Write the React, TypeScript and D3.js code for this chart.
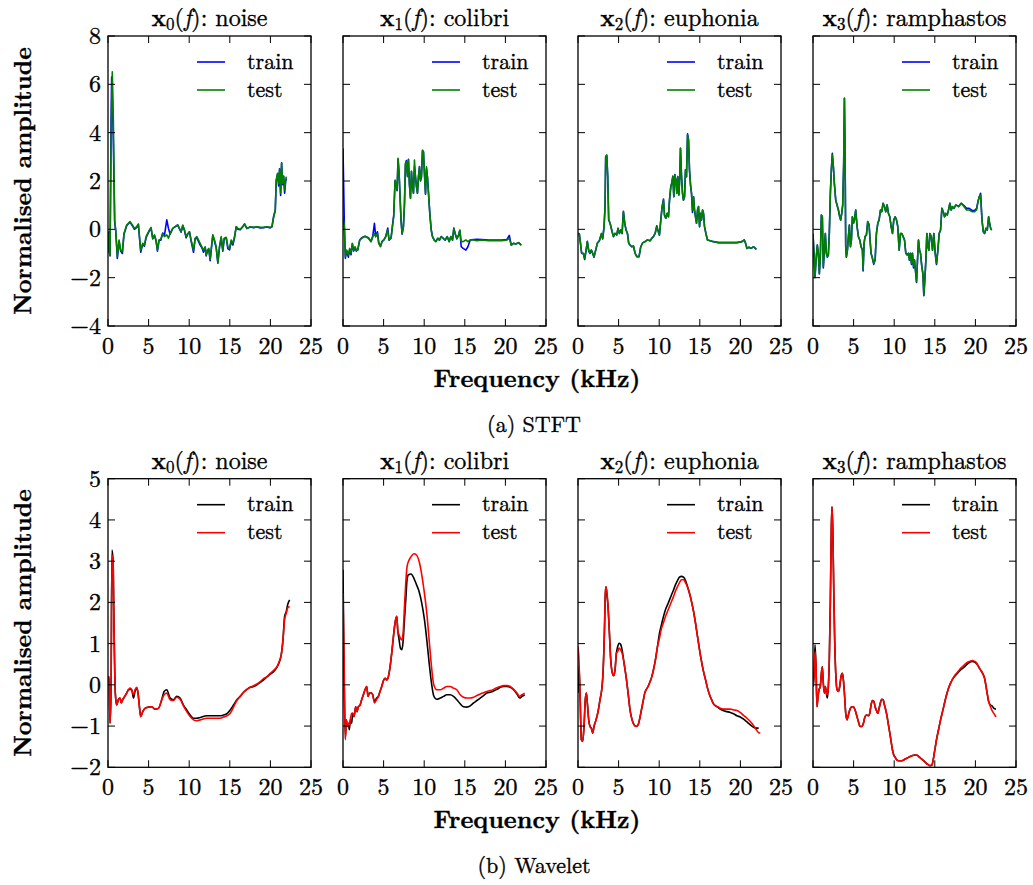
import React from 'react';
import * as d3 from 'd3';

// [frequency kHz, train, test]
type Row = [number, number | null, number | null];

const panelNames = ['noise', 'colibri', 'euphonia', 'ramphastos'];
const xTicks = [0, 5, 10, 15, 20, 25];
const stftYTicks = [-4, -2, 0, 2, 4, 6, 8];
const waveYTicks = [-2, -1, 0, 1, 2, 3, 4, 5];
const legendLabels = ['train', 'test'];

const stftNoise: Row[] = [
  [0, -0.9, -0.99], [0.12, -0.1, -0.17], [0.25, -1.1, -1.06], [0.37, 4.2, 3.14], [0.45, 6.3, 5.2],
  [0.53, 5.6, 6.52], [0.66, 3.6, 4.52], [0.82, 0.3, 0.39], [0.95, -0.05, -0.03], [1.15, -1.2, -1.13],
  [1.36, -0.5, -0.44], [1.56, -0.9, -0.86], [1.77, -1.0, -0.92], [1.97, -0.2, -0.17], [2.3, 0.15, 0.18],
  [2.71, 0.3, 0.32], [3.0, 0.15, 0.18], [3.25, 0.0, 0.04], [3.54, 0.08, 0.11], [3.74, 0.2, 0.22],
  [4.03, -0.95, -0.86], [4.28, -0.6, -0.58], [4.48, -0.7, -0.65], [4.69, -0.35, -0.3], [4.89, -0.2, -0.17],
  [5.1, -0.05, -0.03], [5.3, 0.05, 0.08], [5.51, -0.4, -0.37], [5.72, -0.25, -0.23], [5.92, -0.5, -0.44],
  [6.09, -0.9, -0.86], [6.29, -0.45, -0.44], [6.5, -0.45, -0.41], [6.74, -0.15, -0.17], [6.95, -0.25, -0.3],
  [7.24, 0.39, -0.23], [7.44, 0.05, -0.37], [7.65, -0.2, -0.17], [7.98, 0.04, 0.04], [8.26, 0.1, 0.11],
  [8.59, 0.18, 0.18], [8.8, 0.02, 0.04], [9.0, -0.12, -0.1], [9.21, 0.15, 0.18], [9.42, -0.05, -0.03],
  [9.62, -0.35, -0.3], [9.83, -0.2, -0.17], [10.03, -0.1, -0.1], [10.24, -0.5, -0.44], [10.53, -0.95, -0.86],
  [10.73, -0.4, -0.37], [10.94, -0.35, -0.3], [11.14, -0.5, -0.44], [11.35, -0.65, -0.58], [11.55, -0.75, -0.72],
  [11.76, -0.95, -0.86], [11.97, -0.75, -0.72], [12.09, -1.1, -1.06], [12.25, -0.9, -0.86], [12.42, -0.85, -0.79],
  [12.58, -1.3, -1.24], [12.79, -0.6, -0.58], [12.91, -0.25, -0.23], [13.12, -0.5, -0.44], [13.32, -0.75, -0.72],
  [13.53, -1.4, -1.38], [13.73, -0.75, -0.72], [13.94, -0.35, -0.3], [14.14, -0.9, -0.86], [14.31, -0.4, -0.37],
  [14.56, -0.35, -0.33], [14.76, -0.8, -0.72], [14.97, -0.85, -0.79], [15.17, -0.5, -0.44], [15.38, -0.65, -0.58],
  [15.58, -0.35, -0.3], [15.79, 0.1, 0.11], [16.0, 0.0, 0.04], [16.28, -0.02, 0.0], [16.61, 0.12, 0.11],
  [16.82, 0.22, 0.22], [17.11, 0.03, 0.04], [17.52, 0.1, 0.11], [17.93, 0.07, 0.08], [18.34, 0.1, 0.11],
  [18.75, 0.06, 0.08], [19.16, 0.07, 0.08], [19.57, 0.1, 0.11], [19.98, 0.06, 0.08], [20.19, 0.1, 0.11],
  [20.39, 0.5, 0.52], [20.6, 0.78, 0.8], [20.72, 2.0, 2.04], [20.89, 2.3, 2.32], [21.01, 1.8, 1.9],
  [21.13, 2.5, 2.46], [21.26, 1.4, 1.49], [21.38, 2.75, 2.73], [21.5, 1.85, 1.9], [21.63, 2.2, 2.18],
  [21.75, 1.5, 1.63], [21.88, 2.0, 2.04], [21.96, 2.1, 2.18],
];

const stftColibri: Row[] = [
  [0, 3.35, 0.52], [0.16, 0.3, 0.11], [0.29, -1.2, -1.13], [0.45, -0.9, -0.86], [0.66, -1.15, -1.06],
  [0.82, -0.85, -0.79], [0.99, -1.05, -0.99], [1.15, -0.6, -0.58], [1.32, -0.9, -0.86], [1.48, -0.75, -0.72],
  [1.64, -0.9, -0.86], [1.81, -0.85, -0.86], [2.06, -0.45, -0.44], [2.3, -0.35, -0.37], [2.71, -0.28, -0.3],
  [3.13, -0.35, -0.37], [3.45, -0.5, -0.51], [3.66, -0.3, -0.3], [3.87, 0.25, -0.17], [4.03, -0.3, -0.3],
  [4.24, -0.1, -0.17], [4.4, -0.55, -0.58], [4.61, -0.7, -0.72], [4.81, -0.5, -0.51], [5.06, -0.42, -0.44],
  [5.26, -0.3, -0.3], [5.51, 0.05, -0.03], [5.67, -0.45, -0.44], [5.92, -0.35, -0.37], [6.09, 0.15, 0.11],
  [6.25, 0.6, 0.52], [6.41, 2.0, 2.04], [6.54, 1.85, 1.9], [6.66, 1.6, 1.63], [6.78, 2.9, 2.94],
  [6.91, 2.3, 2.32], [7.03, 1.3, 1.35], [7.15, 0.35, 0.39], [7.28, -0.2, -0.17], [7.44, 0.1, 0.11],
  [7.57, 1.0, 1.08], [7.69, 2.7, 2.73], [7.81, 2.85, 2.8], [7.94, 2.2, 2.18], [8.06, 2.9, 2.87],
  [8.18, 1.85, 1.9], [8.31, 1.3, 1.28], [8.43, 2.4, 2.39], [8.55, 1.8, 1.77], [8.68, 1.5, 1.49],
  [8.8, 2.6, 2.87], [8.92, 2.2, 2.18], [9.05, 1.75, 1.77], [9.17, 1.5, 1.49], [9.29, 2.15, 2.18],
  [9.42, 2.6, 2.59], [9.54, 2.0, 2.04], [9.66, 2.15, 2.18], [9.79, 3.25, 3.28], [9.91, 3.2, 3.21],
  [10.03, 2.3, 2.32], [10.16, 1.45, 1.49], [10.28, 2.5, 2.59], [10.4, 2.15, 2.18], [10.53, 1.5, 1.49],
  [10.69, 0.65, 0.66], [10.86, 0.0, -0.03], [11.02, -0.3, -0.3], [11.23, -0.45, -0.44], [11.43, -0.5, -0.51],
  [11.68, -0.37, -0.37], [11.88, -0.45, -0.44], [12.09, -0.3, -0.3], [12.34, -0.37, -0.37], [12.58, -0.45, -0.44],
  [12.83, -0.3, -0.3], [13.08, -0.5, -0.51], [13.28, -0.3, -0.3], [13.49, -0.45, -0.44], [13.65, 0.05, 0.04],
  [13.82, -0.2, -0.17], [14.02, -0.4, -0.37], [14.23, -0.25, -0.23], [14.39, -0.05, -0.03], [14.56, -0.72, -0.51],
  [14.8, -0.79, -0.51], [15.13, -0.86, -0.44], [15.38, -0.72, -0.51], [15.67, -0.44, -0.44], [16.08, -0.42, -0.44],
  [16.49, -0.41, -0.47], [17.11, -0.42, -0.44], [17.93, -0.44, -0.47], [18.75, -0.44, -0.47], [19.57, -0.44, -0.47],
  [20.19, -0.42, -0.44], [20.48, -0.25, -0.37], [20.72, -0.65, -0.65], [21.01, -0.58, -0.58], [21.3, -0.61, -0.61],
  [21.63, -0.55, -0.55], [21.96, -0.65, -0.65],
];

const stftEuphonia: Row[] = [
  [0, -0.17, -0.17], [0.16, -0.2, -0.17], [0.29, -0.55, -0.51], [0.45, -1.0, -0.99], [0.66, -1.0, -0.99],
  [0.82, -1.25, -1.2], [0.99, -0.9, -0.86], [1.15, -0.5, -0.51], [1.32, -0.9, -0.86], [1.48, -1.0, -0.99],
  [1.64, -0.86, -0.86], [1.81, -1.0, -0.99], [1.97, -1.15, -1.13], [2.18, -0.86, -0.86], [2.38, -0.58, -0.58],
  [2.63, -0.47, -0.47], [2.88, -0.2, -0.17], [3.04, -0.4, -0.37], [3.21, 0.1, 0.11], [3.33, 0.94, 0.94],
  [3.41, 3.0, 3.01], [3.54, 3.05, 3.08], [3.66, 2.2, 2.18], [3.78, 0.4, 0.39], [3.95, 0.25, 0.25],
  [4.15, -0.03, -0.03], [4.36, -0.3, -0.3], [4.56, -0.17, -0.17], [4.77, -0.23, -0.23], [4.93, 0.04, 0.04],
  [5.1, -0.17, -0.17], [5.26, -0.03, -0.03], [5.43, -0.17, -0.17], [5.59, 0.75, 0.73], [5.76, 0.25, 0.25],
  [5.92, -0.03, -0.03], [6.09, -0.17, -0.17], [6.25, -0.58, -0.58], [6.41, -0.65, -0.65], [6.62, -0.72, -0.72],
  [6.83, -0.69, -0.69], [7.03, -0.99, -0.99], [7.24, -1.13, -1.13], [7.52, -1.13, -1.13], [7.73, -0.72, -0.72],
  [7.98, -0.55, -0.55], [8.26, -0.51, -0.51], [8.55, -0.44, -0.44], [8.88, -0.47, -0.47], [9.09, -0.37, -0.37],
  [9.29, -0.3, -0.3], [9.5, -0.17, -0.17], [9.7, 0.15, 0.11], [9.83, -0.03, -0.03], [10.03, -0.23, -0.23],
  [10.2, 0.39, 0.39], [10.36, 0.94, 0.94], [10.53, 1.25, 1.21], [10.65, 0.59, 0.59], [10.81, 0.46, 0.46],
  [10.98, 0.66, 0.66], [11.14, 0.52, 0.52], [11.27, 1.21, 1.21], [11.43, 1.77, 1.77], [11.55, 1.92, 1.9],
  [11.68, 2.2, 2.18], [11.8, 1.35, 1.35], [11.92, 2.27, 2.25], [12.05, 2.04, 2.04], [12.17, 1.49, 1.49],
  [12.29, 2.18, 2.18], [12.42, 1.42, 1.42], [12.54, 2.18, 2.18], [12.62, 3.35, 3.35], [12.75, 2.18, 2.18],
  [12.87, 1.49, 1.49], [12.99, 1.21, 1.21], [13.12, 1.35, 1.35], [13.24, 2.46, 2.46], [13.36, 2.18, 2.18],
  [13.49, 3.95, 3.9], [13.61, 3.7, 3.7], [13.73, 2.46, 2.46], [13.86, 1.83, 1.83], [13.98, 1.49, 1.49],
  [14.1, 0.7, 0.8], [14.23, 1.35, 1.35], [14.35, 0.8, 0.8], [14.47, 0.52, 0.52], [14.6, 0.25, 0.25],
  [14.72, 0.8, 0.8], [14.84, 0.94, 0.94], [14.97, 0.11, 0.11], [15.09, 0.66, 0.66], [15.21, 0.39, 0.39],
  [15.34, 0.8, 0.8], [15.46, 0.66, 0.66], [15.58, 0.11, 0.11], [15.75, -0.17, -0.17], [15.95, -0.44, -0.44],
  [16.28, -0.47, -0.47], [16.69, -0.51, -0.51], [17.31, -0.55, -0.55], [17.93, -0.55, -0.55], [18.75, -0.55, -0.55],
  [19.57, -0.55, -0.55], [20.19, -0.51, -0.51], [20.48, -0.44, -0.44], [20.64, -0.58, -0.58], [20.81, -0.79, -0.79],
  [21.05, -0.74, -0.74], [21.3, -0.79, -0.79], [21.63, -0.72, -0.72], [21.96, -0.83, -0.83],
];

const stftRamphastos: Row[] = [
  [0, -0.2, -0.17], [0.12, -1.0, -0.99], [0.25, -2.0, -1.96], [0.37, -1.3, -1.27], [0.53, -0.65, -0.65],
  [0.66, -1.0, -0.99], [0.78, -1.85, -1.82], [0.9, -1.15, -1.13], [1.03, 0.59, 0.59], [1.15, 0.52, 0.52],
  [1.27, -1.6, -1.54], [1.4, -0.86, -0.86], [1.52, -0.17, -0.17], [1.64, -0.99, -0.99], [1.77, -1.15, -1.13],
  [1.89, -1.06, -1.06], [2.01, -0.17, -0.17], [2.14, 1.49, 1.49], [2.26, 2.46, 2.46], [2.38, 3.15, 3.08],
  [2.51, 2.59, 2.59], [2.63, 1.9, 1.9], [2.8, 1.21, 1.21], [2.96, 1.01, 1.01], [3.13, 0.8, 0.8],
  [3.29, 0.52, 0.52], [3.41, 0.39, 0.39], [3.54, 0.66, 0.66], [3.66, 1.01, 1.01], [3.78, 2.73, 2.73],
  [3.87, 5.42, 5.42], [3.95, 3.14, 3.14], [4.03, -0.72, -0.72], [4.11, -1.15, -1.13], [4.24, -0.86, -0.86],
  [4.36, -0.3, -0.3], [4.48, 0.18, 0.18], [4.61, -0.72, -0.72], [4.73, -0.44, -0.44], [4.85, 0.52, 0.52],
  [4.98, 0.25, 0.25], [5.1, 0.39, 0.39], [5.26, 0.8, 0.8], [5.43, 0.11, 0.11], [5.59, -0.3, -0.3],
  [5.76, -0.44, -0.44], [5.92, -0.72, -0.72], [6.09, -0.86, -0.86], [6.17, -1.72, -1.68], [6.29, -0.58, -0.58],
  [6.41, -0.3, -0.3], [6.58, -0.23, -0.23], [6.74, 0.32, 0.32], [6.91, 0.18, 0.18], [7.03, -0.44, -0.44],
  [7.15, -0.99, -0.99], [7.32, -1.2, -1.2], [7.48, -1.45, -1.41], [7.65, -1.27, -1.27], [7.81, -0.17, -0.17],
  [7.98, 0.25, 0.25], [8.14, 0.39, 0.39], [8.31, 0.8, 0.8], [8.47, 0.73, 0.73], [8.63, 1.08, 1.08],
  [8.8, 0.94, 0.94], [8.96, 0.73, 0.73], [9.13, 1.01, 1.01], [9.29, 0.66, 0.66], [9.46, 0.52, 0.52],
  [9.62, 0.11, 0.11], [9.79, -0.17, -0.17], [9.95, 0.39, 0.39], [10.12, 0.52, 0.52], [10.28, 0.39, 0.39],
  [10.44, 0.11, 0.11], [10.61, -0.86, -0.86], [10.77, -0.17, -0.17], [10.94, -0.17, -0.17], [11.1, -0.3, -0.3],
  [11.27, -0.44, -0.44], [11.43, -0.99, -0.99], [11.6, -1.06, -1.06], [11.76, -0.99, -0.99], [11.88, -1.27, -1.27],
  [12.01, -0.99, -0.99], [12.13, -1.45, -1.41], [12.25, -0.99, -0.99], [12.38, -1.6, -1.54], [12.5, -1.27, -1.27],
  [12.62, -1.72, -1.68], [12.75, -2.2, -2.17], [12.87, -1.27, -1.27], [12.99, -0.44, -0.44], [13.12, -0.86, -0.86],
  [13.24, -0.99, -0.99], [13.4, -1.54, -1.54], [13.53, -1.82, -1.82], [13.65, -2.75, -2.72], [13.77, -2.1, -2.1],
  [13.9, -1.27, -1.27], [14.02, -0.17, -0.17], [14.14, -0.72, -0.72], [14.27, -0.86, -0.86], [14.39, -0.17, -0.17],
  [14.56, -0.3, -0.3], [14.72, -0.86, -0.86], [14.88, -0.17, -0.17], [15.05, -0.99, -0.99], [15.21, -1.45, -1.41],
  [15.38, -0.86, -0.86], [15.54, -0.17, -0.17], [15.71, -0.03, -0.03], [15.87, 0.87, 0.87], [16.04, 0.73, 0.73],
  [16.2, 0.52, 0.52], [16.37, 0.66, 0.66], [16.53, 0.59, 0.59], [16.69, 0.8, 0.8], [16.86, 1.08, 1.08],
  [17.02, 0.8, 0.8], [17.19, 0.94, 0.94], [17.35, 0.87, 0.87], [17.6, 1.01, 1.01], [17.93, 0.94, 0.94],
  [18.26, 1.08, 1.08], [18.59, 0.98, 0.94], [18.91, 0.87, 0.8], [19.24, 0.87, 0.8], [19.57, 0.78, 0.73],
  [19.9, 0.78, 0.73], [20.15, 0.87, 0.8], [20.31, 1.14, 1.14], [20.48, 1.35, 1.35], [20.64, 1.49, 1.42],
  [20.81, 0.39, 0.39], [20.97, -0.1, -0.1], [21.13, -0.17, -0.17], [21.3, 0.04, 0.04], [21.46, -0.03, -0.03],
  [21.63, 0.52, 0.52], [21.75, 0.25, 0.25], [21.88, 0.04, 0.04], [22.0, -0.03, -0.03],
];

const waveNoise: Row[] = [
  [0, 0.12, 0.16], [0.12, 0.2, 0.2], [0.25, -0.93, -0.93], [0.37, -0.2, -0.2], [0.49, 3.27, 3.15],
  [0.62, 3.03, 3.03], [0.74, 1.41, 1.41], [0.9, -0.2, -0.2], [1.07, -0.49, -0.49], [1.27, -0.36, -0.36],
  [1.48, -0.32, -0.32], [1.64, -0.44, -0.44], [1.81, -0.36, -0.36], [2.06, -0.28, -0.28], [2.3, -0.2, -0.2],
  [2.51, -0.12, -0.12], [2.71, -0.11, -0.08], [2.92, -0.12, -0.12], [3.13, -0.32, -0.24], [3.33, -0.16, -0.12],
  [3.54, -0.08, -0.06], [3.7, -0.2, -0.2], [3.87, -0.53, -0.53], [4.03, -0.77, -0.77], [4.28, -0.65, -0.65],
  [4.56, -0.57, -0.57], [4.98, -0.54, -0.54], [5.39, -0.53, -0.53], [5.8, -0.59, -0.59], [6.21, -0.57, -0.57],
  [6.62, -0.36, -0.36], [6.91, -0.16, -0.24], [7.24, -0.12, -0.2], [7.65, -0.32, -0.36], [8.06, -0.36, -0.38],
  [8.47, -0.28, -0.3], [8.88, -0.32, -0.35], [9.29, -0.49, -0.51], [9.7, -0.61, -0.65], [10.12, -0.73, -0.77],
  [10.53, -0.81, -0.85], [10.94, -0.81, -0.87], [11.35, -0.79, -0.85], [12.17, -0.75, -0.81], [12.99, -0.75, -0.81],
  [13.82, -0.75, -0.81], [14.23, -0.73, -0.78], [14.64, -0.7, -0.75], [15.05, -0.61, -0.69], [15.46, -0.49, -0.54],
  [15.87, -0.36, -0.38], [16.28, -0.28, -0.28], [16.69, -0.18, -0.18], [17.11, -0.11, -0.11], [17.52, -0.06, -0.06],
  [17.93, -0.04, -0.02], [18.34, 0.0, 0.02], [18.75, 0.06, 0.08], [19.16, 0.12, 0.15], [19.57, 0.19, 0.2],
  [19.98, 0.26, 0.28], [20.39, 0.32, 0.35], [20.81, 0.43, 0.44], [21.09, 0.55, 0.57], [21.34, 0.73, 0.73],
  [21.55, 1.09, 1.09], [21.75, 1.66, 1.58], [21.96, 1.78, 1.74], [22.12, 1.94, 1.86], [22.37, 2.06, 1.9],
];

const waveColibri: Row[] = [
  [0, 2.79, 2.22], [0.16, -0.2, 0.2], [0.29, -1.29, -1.33], [0.41, -0.85, -0.85], [0.53, -1.01, -1.01],
  [0.66, -0.93, -0.93], [0.78, -1.09, -1.01], [0.9, -0.85, -0.85], [1.07, -0.93, -0.69], [1.19, -0.69, -0.69],
  [1.36, -0.77, -0.77], [1.56, -0.53, -0.53], [1.73, -0.65, -0.65], [1.89, -0.53, -0.53], [2.1, -0.49, -0.49],
  [2.3, -0.36, -0.36], [2.51, -0.24, -0.24], [2.71, -0.12, -0.12], [2.92, -0.04, -0.04], [3.08, -0.28, -0.28],
  [3.25, -0.2, -0.2], [3.45, -0.19, -0.19], [3.66, -0.24, -0.24], [3.87, -0.4, -0.44], [4.15, -0.32, -0.35],
  [4.36, -0.28, -0.28], [4.56, -0.16, -0.16], [4.77, -0.04, -0.04], [5.02, 0.12, 0.12], [5.18, 0.16, 0.16],
  [5.39, 0.12, 0.12], [5.59, 0.2, 0.2], [5.8, 0.44, 0.44], [6.0, 0.77, 0.77], [6.21, 1.17, 1.17],
  [6.41, 1.5, 1.5], [6.62, 1.66, 1.66], [6.74, 1.33, 1.33], [6.91, 1.09, 1.21], [7.07, 0.89, 1.13],
  [7.24, 0.85, 1.09], [7.4, 1.05, 1.25], [7.57, 1.58, 1.9], [7.73, 2.06, 2.47], [7.89, 2.55, 2.87],
  [8.06, 2.67, 2.99], [8.39, 2.69, 3.11], [8.72, 2.59, 3.18], [9.05, 2.43, 3.15], [9.38, 2.26, 2.99],
  [9.7, 1.98, 2.67], [10.03, 1.58, 2.22], [10.32, 1.09, 1.74], [10.61, 0.53, 1.09], [10.9, 0.04, 0.44],
  [11.18, -0.27, 0.0], [11.55, -0.35, -0.12], [11.97, -0.32, -0.12], [12.38, -0.28, -0.08], [12.79, -0.24, -0.04],
  [13.2, -0.24, -0.04], [13.61, -0.28, -0.08], [14.02, -0.36, -0.12], [14.43, -0.46, -0.24], [14.84, -0.53, -0.3],
  [15.25, -0.54, -0.32], [15.67, -0.51, -0.32], [16.08, -0.44, -0.3], [16.49, -0.38, -0.26], [16.9, -0.32, -0.22],
  [17.31, -0.26, -0.19], [17.72, -0.2, -0.16], [18.13, -0.18, -0.14], [18.54, -0.15, -0.11], [18.96, -0.11, -0.07],
  [19.37, -0.06, -0.04], [19.78, -0.04, -0.02], [20.19, -0.04, -0.02], [20.6, -0.06, -0.04], [21.01, -0.12, -0.11],
  [21.42, -0.22, -0.2], [21.75, -0.32, -0.28], [22.04, -0.28, -0.24], [22.37, -0.24, -0.2],
];

const waveEuphonia: Row[] = [
  [0, -0.2, 0.93], [0.12, 0.44, 0.61], [0.25, -0.2, -0.2], [0.41, -1.33, -1.33], [0.58, -1.37, -1.37],
  [0.74, -1.01, -1.01], [0.9, -0.36, -0.36], [1.03, -0.2, -0.2], [1.15, -0.44, -0.44], [1.32, -0.85, -0.85],
  [1.48, -1.01, -1.01], [1.64, -1.05, -1.05], [1.81, -1.17, -1.17], [1.97, -1.01, -1.01], [2.22, -0.85, -0.85],
  [2.47, -0.65, -0.65], [2.71, -0.36, -0.36], [2.92, -0.12, -0.12], [3.08, 0.28, 0.28], [3.25, 1.25, 1.25],
  [3.37, 2.22, 2.22], [3.45, 2.38, 2.38], [3.58, 2.14, 2.22], [3.7, 1.9, 1.9], [3.87, 1.25, 1.25],
  [4.03, 0.61, 0.61], [4.24, 0.28, 0.28], [4.4, 0.22, 0.22], [4.56, 0.36, 0.36], [4.73, 0.77, 0.77],
  [4.89, 0.93, 0.81], [5.06, 1.01, 0.89], [5.22, 0.99, 0.86], [5.43, 0.85, 0.77], [5.67, 0.53, 0.53],
  [5.92, 0.2, 0.2], [6.17, -0.2, -0.2], [6.41, -0.61, -0.61], [6.66, -0.85, -0.85], [6.91, -0.97, -0.97],
  [7.15, -1.01, -1.01], [7.4, -0.97, -0.97], [7.57, -0.85, -0.85], [7.73, -0.69, -0.69], [7.89, -0.53, -0.53],
  [8.06, -0.36, -0.36], [8.22, -0.2, -0.2], [8.39, -0.12, -0.12], [8.63, -0.04, -0.04], [8.88, 0.08, 0.08],
  [9.09, 0.2, 0.2], [9.29, 0.36, 0.36], [9.54, 0.61, 0.61], [9.79, 0.93, 0.93], [10.03, 1.25, 1.13],
  [10.28, 1.46, 1.37], [10.53, 1.66, 1.51], [10.77, 1.82, 1.66], [11.02, 1.94, 1.78], [11.27, 2.06, 1.9],
  [11.51, 2.18, 2.02], [11.76, 2.3, 2.14], [12.01, 2.43, 2.28], [12.25, 2.53, 2.38], [12.5, 2.61, 2.48],
  [12.75, 2.63, 2.55], [12.99, 2.61, 2.55], [13.24, 2.53, 2.48], [13.49, 2.38, 2.37], [13.73, 2.22, 2.22],
  [13.98, 2.02, 2.02], [14.23, 1.78, 1.78], [14.47, 1.5, 1.5], [14.72, 1.17, 1.17], [14.97, 0.85, 0.85],
  [15.21, 0.57, 0.57], [15.46, 0.32, 0.32], [15.71, 0.12, 0.12], [15.95, -0.08, -0.08], [16.2, -0.24, -0.24],
  [16.45, -0.36, -0.36], [16.69, -0.46, -0.46], [16.94, -0.51, -0.51], [17.19, -0.54, -0.53], [17.52, -0.59, -0.57],
  [17.93, -0.63, -0.59], [18.34, -0.65, -0.59], [18.75, -0.67, -0.59], [19.16, -0.7, -0.61], [19.57, -0.75, -0.62],
  [19.98, -0.78, -0.67], [20.39, -0.83, -0.74], [20.81, -0.9, -0.81], [21.22, -0.97, -0.89], [21.63, -1.03, -0.99],
  [21.96, -1.05, -1.09], [22.25, -1.05, -1.16], [22.45, null, -1.17],
];

const waveRamphastos: Row[] = [
  [0, -0.04, -0.04], [0.12, 0.2, 0.2], [0.25, 0.97, 0.81], [0.37, 0.44, 0.44], [0.49, -0.53, -0.53],
  [0.62, -0.28, -0.28], [0.74, -0.12, -0.12], [0.9, -0.04, -0.04], [1.03, 0.28, 0.28], [1.15, 0.44, 0.44],
  [1.27, 0.04, 0.04], [1.4, -0.2, -0.2], [1.52, -0.04, -0.04], [1.64, -0.2, -0.2], [1.77, -0.32, -0.24],
  [1.89, -0.04, -0.04], [2.01, 0.61, 0.61], [2.14, 2.06, 2.06], [2.26, 3.84, 3.84], [2.34, 4.32, 4.32],
  [2.43, 3.84, 3.84], [2.55, 2.38, 2.38], [2.67, 1.09, 1.09], [2.8, 0.28, 0.28], [2.96, -0.12, -0.12],
  [3.13, -0.16, -0.16], [3.29, -0.04, -0.04], [3.45, 0.2, 0.2], [3.62, 0.28, 0.28], [3.74, 0.12, 0.12],
  [3.87, -0.2, -0.2], [4.03, -0.69, -0.69], [4.19, -0.85, -0.85], [4.36, -0.73, -0.73], [4.56, -0.59, -0.59],
  [4.77, -0.53, -0.53], [4.98, -0.53, -0.53], [5.18, -0.61, -0.61], [5.39, -0.75, -0.75], [5.59, -0.89, -0.89],
  [5.8, -1.01, -1.01], [6.0, -1.01, -1.01], [6.21, -0.93, -0.93], [6.41, -0.77, -0.77], [6.62, -0.73, -0.73],
  [6.83, -0.75, -0.75], [6.99, -0.69, -0.69], [7.15, -0.49, -0.49], [7.32, -0.38, -0.38], [7.48, -0.4, -0.4],
  [7.65, -0.53, -0.53], [7.81, -0.62, -0.62], [7.98, -0.69, -0.69], [8.14, -0.57, -0.57], [8.31, -0.43, -0.43],
  [8.47, -0.35, -0.35], [8.63, -0.36, -0.36], [8.8, -0.49, -0.49], [8.96, -0.61, -0.61], [9.13, -0.77, -0.77],
  [9.29, -0.97, -0.97], [9.46, -1.17, -1.17], [9.62, -1.37, -1.37], [9.79, -1.58, -1.58], [9.95, -1.7, -1.7],
  [10.12, -1.76, -1.76], [10.32, -1.82, -1.82], [10.53, -1.84, -1.84], [10.94, -1.84, -1.84], [11.35, -1.8, -1.8],
  [11.76, -1.76, -1.76], [12.17, -1.72, -1.72], [12.58, -1.7, -1.7], [12.83, -1.71, -1.71], [13.08, -1.75, -1.75],
  [13.4, -1.8, -1.8], [13.73, -1.86, -1.86], [14.06, -1.92, -1.92], [14.39, -1.96, -1.96], [14.64, -1.95, -1.95],
  [14.8, -1.82, -1.82], [14.97, -1.62, -1.62], [15.21, -1.33, -1.33], [15.46, -1.09, -1.09], [15.71, -0.85, -0.85],
  [15.95, -0.65, -0.65], [16.2, -0.44, -0.44], [16.45, -0.24, -0.24], [16.69, -0.08, -0.08], [16.94, 0.04, 0.04],
  [17.19, 0.14, 0.14], [17.43, 0.2, 0.22], [17.68, 0.26, 0.28], [17.93, 0.31, 0.34], [18.17, 0.36, 0.4],
  [18.42, 0.4, 0.44], [18.67, 0.44, 0.49], [18.91, 0.49, 0.53], [19.16, 0.53, 0.56], [19.41, 0.56, 0.58],
  [19.65, 0.57, 0.59], [19.9, 0.55, 0.57], [20.15, 0.51, 0.53], [20.39, 0.44, 0.44], [20.64, 0.36, 0.36],
  [20.89, 0.28, 0.28], [21.13, 0.16, 0.16], [21.38, -0.12, -0.12], [21.63, -0.4, -0.4], [21.86, -0.49, -0.53],
  [22.04, -0.51, -0.62], [22.29, -0.57, -0.7], [22.53, -0.59, -0.78],
];

const FONT = "'Latin Modern Roman', 'Liberation Serif', serif";
// thin outline so the hairline LM glyphs read as heavy as the reference text
const ink = { stroke: '#000', strokeWidth: 0.35 };

const rows = [
  {
    caption: '(a) STFT', top: 36, height: 290, yDomain: [-4, 8], yTicks: stftYTicks,
    colors: ['#0000ff', '#008000'], curve: d3.curveLinear,
    series: [stftNoise, stftColibri, stftEuphonia, stftRamphastos],
  },
  {
    caption: '(b) Wavelet', top: 478.7, height: 288.6, yDomain: [-2, 5], yTicks: waveYTicks,
    colors: ['#000000', '#ff0000'], curve: d3.curveMonotoneX,
    series: [waveNoise, waveColibri, waveEuphonia, waveRamphastos],
  },
];

const panelW = 203;
const panelLeft = (i: number) => 108 + i * 235;
const tickLen = 7;

function Panel({ row, idx, ri }: { row: typeof rows[number]; idx: number; ri: number }) {
  const left = panelLeft(idx);
  const x = d3.scaleLinear().domain([0, 25]).range([0, panelW]);
  const y = d3.scaleLinear().domain(row.yDomain).range([row.height, 0]);
  const data = row.series[idx];
  const mk = (k: 1 | 2) =>
    d3.line<Row>()
      .defined((d) => d[k] !== null)
      .x((d) => x(d[0]))
      .y((d) => y(d[k] as number))
      .curve(row.curve)(data) || '';
  const clipId = `clip-${ri}-${idx}`;
  return (
    <g transform={`translate(${left},${row.top})`}>
      <clipPath id={clipId}>
        <rect x={0} y={0} width={panelW} height={row.height} />
      </clipPath>
      <text x={panelW / 2} y={-10} textAnchor="middle" {...ink} style={{ fontFamily: FONT, fontSize: 24 }}>
        <tspan fontWeight="bold">x</tspan>
        <tspan style={{ fontSize: 17 }} dy={4}>{idx}</tspan>
        <tspan dy={-4}>(</tspan>
        <tspan fontStyle="italic">f</tspan>
        <tspan>{`): ${panelNames[idx]}`}</tspan>
      </text>
      <g clipPath={`url(#${clipId})`}>
        <path d={mk(1)} fill="none" stroke={row.colors[0]} strokeWidth={1.6} strokeLinejoin="round" />
        <path d={mk(2)} fill="none" stroke={row.colors[1]} strokeWidth={1.6} strokeLinejoin="round" />
      </g>
      {xTicks.map((t) => (
        <g key={`x${t}`}>
          <line x1={x(t)} x2={x(t)} y1={row.height} y2={row.height - tickLen} stroke="#000" strokeWidth={1} />
          <line x1={x(t)} x2={x(t)} y1={0} y2={tickLen} stroke="#000" strokeWidth={1} />
          <text x={x(t)} y={row.height + 28} textAnchor="middle" {...ink} style={{ fontFamily: FONT, fontSize: 24 }}>{t}</text>
        </g>
      ))}
      {row.yTicks.map((t) => (
        <g key={`y${t}`}>
          <line x1={0} x2={tickLen} y1={y(t)} y2={y(t)} stroke="#000" strokeWidth={1} />
          <line x1={panelW} x2={panelW - tickLen} y1={y(t)} y2={y(t)} stroke="#000" strokeWidth={1} />
          {idx === 0 && (
            <text x={-7} y={y(t)} dy="0.33em" textAnchor="end" {...ink} style={{ fontFamily: FONT, fontSize: 24 }}>
              {t < 0 ? `\u2212${-t}` : t}
            </text>
          )}
        </g>
      ))}
      <rect x={0} y={0} width={panelW} height={row.height} fill="none" stroke="#000" strokeWidth={1.3} />
      {legendLabels.map((lab, k) => (
        <g key={lab}>
          <line x1={89} x2={117} y1={26 + k * 28} y2={26 + k * 28} stroke={row.colors[k]} strokeWidth={1.6} />
          <text x={139} y={26 + k * 28} dy="0.3em" {...ink} style={{ fontFamily: FONT, fontSize: 22 }}>{lab}</text>
        </g>
      ))}
    </g>
  );
}

export default function App() {
  return (
    <svg width={1033} height={885} style={{ position: 'absolute', left: 0, top: 0, background: '#fff' }}>
      {rows.map((row, ri) => (
        <g key={row.caption}>
          {[0, 1, 2, 3].map((i) => (
            <Panel key={i} row={row} idx={i} ri={ri} />
          ))}
          <text
            transform={`translate(31,${row.top + row.height / 2}) rotate(-90)`}
            textAnchor="middle" {...ink} style={{ fontFamily: FONT, fontSize: 24, fontWeight: 'bold' }}
          >
            Normalised amplitude
          </text>
          <text x={537} y={row.top + row.height + 61} textAnchor="middle" {...ink}
            style={{ fontFamily: FONT, fontSize: 24.5, fontWeight: 'bold' }}>
            Frequency (kHz)
          </text>
          <text x={534} y={row.top + row.height + 106} textAnchor="middle" {...ink} style={{ fontFamily: FONT, fontSize: 22 }}>
            {row.caption}
          </text>
        </g>
      ))}
    </svg>
  );
}
